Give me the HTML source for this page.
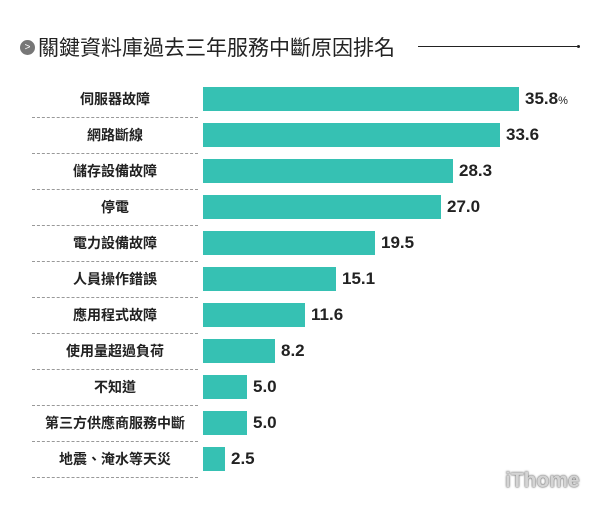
<!DOCTYPE html>
<html><head><meta charset="utf-8"><style>
body{margin:0;width:600px;height:506px;background:#fff;position:relative;overflow:hidden;font-family:"Liberation Sans","Noto Sans CJK TC",sans-serif;}
.t{position:absolute;left:38px;top:32px;font-size:21px;color:#222;white-space:nowrap;}
.ic{position:absolute;left:20px;top:40px;width:15px;height:15px;border-radius:50%;background:#777;color:#fff;font-size:10px;line-height:15px;text-align:center;}
.ln{position:absolute;left:418px;top:46px;width:160px;height:1px;background:#222;}
.dot{position:absolute;left:577px;top:45px;width:3px;height:3px;border-radius:50%;background:#222;}
.lab{position:absolute;left:32px;width:166px;text-align:center;font-size:14px;font-weight:bold;color:#222;height:24px;line-height:24px;}
.dv{position:absolute;left:32px;width:166px;border-top:1px dashed #999;}
.bar{position:absolute;left:203px;height:24px;background:#36c1b3;}
.v{position:absolute;font-size:17px;font-weight:bold;color:#222;height:24px;line-height:24px;}
.v small{font-size:11px;font-weight:normal;}
.logo{position:absolute;left:505px;top:469px;font-size:21px;font-weight:bold;color:#d4d4d4;text-shadow:0 0 2px #666,0 0 1px #666;}
</style></head><body>
<div class="ic">&gt;</div>
<div class="t">關鍵資料庫過去三年服務中斷原因排名</div>
<div class="ln"></div><div class="dot"></div>
<div id="c"></div>
<div class="logo">iThome</div>
<script>
var d=[["伺服器故障",35.8],["網路斷線",33.6],["儲存設備故障",28.3],["停電",27.0],["電力設備故障",19.5],["人員操作錯誤",15.1],["應用程式故障",11.6],["使用量超過負荷",8.2],["不知道",5.0],["第三方供應商服務中斷",5.0],["地震、淹水等天災",2.5]];
var h="";
d.forEach(function(r,i){var y=87+i*36;var w=Math.round(r[1]*8.83);
h+='<div class="lab" style="top:'+y+'px">'+r[0]+'</div>';
h+='<div class="dv" style="top:'+(y+30)+'px"></div>';
h+='<div class="bar" style="top:'+y+'px;width:'+w+'px"></div>';
h+='<div class="v" style="top:'+y+'px;left:'+(203+w+6)+'px">'+r[1].toFixed(1)+(i==0?'<small>%</small>':'')+'</div>';});
document.getElementById("c").innerHTML=h;
</script>
</body></html>
